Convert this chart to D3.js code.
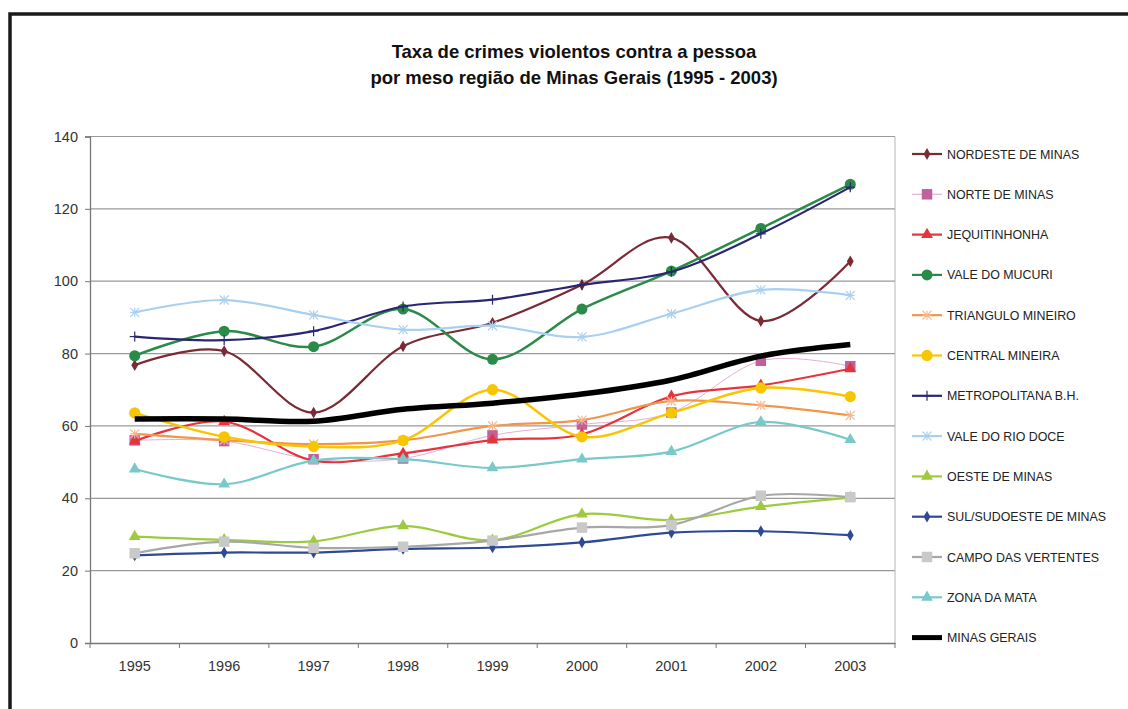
<!DOCTYPE html>
<html><head><meta charset="utf-8">
<script src="https://cdn.jsdelivr.net/npm/d3@7"></script>
<style>
body{margin:0;background:#fff;}
svg{display:block;font-family:"Liberation Sans",Arial,sans-serif;}
</style></head>
<body><svg id="c" width="1128" height="709"></svg>
<script>
const years = ["1995","1996","1997","1998","1999","2000","2001","2002","2003"];
const yTicks = [0,20,40,60,80,100,120,140];
const titleLines = ["Taxa de crimes violentos contra a pessoa","por meso região de Minas Gerais (1995 - 2003)"];

const nordeste   = [76.8, 80.7, 63.7, 82.0, 88.5, 99.0, 112.0, 89.0, 105.5];
const norte      = [56.0, 55.8, 50.8, 51.0, 57.4, 60.4, 63.7, 78.0, 76.5];
const jequi      = [55.8, 61.2, 50.4, 52.4, 56.1, 57.7, 68.2, 71.2, 75.8];
const mucuri     = [79.4, 86.2, 81.9, 92.3, 78.4, 92.3, 102.8, 114.6, 126.8];
const triangulo  = [57.8, 56.1, 55.0, 56.0, 60.0, 61.6, 66.9, 65.7, 62.9];
const central    = [63.6, 57.0, 54.3, 56.0, 70.0, 57.0, 63.6, 70.5, 68.1];
const metro      = [84.7, 83.7, 86.2, 93.0, 94.9, 99.0, 102.6, 113.1, 126.0];
const rioDoce    = [91.4, 94.8, 90.7, 86.6, 87.7, 84.6, 91.0, 97.6, 96.1];
const oeste      = [29.4, 28.5, 28.1, 32.4, 28.4, 35.6, 34.0, 37.7, 40.2];
const sul        = [24.2, 25.0, 25.0, 26.0, 26.4, 27.8, 30.5, 30.9, 29.8];
const campo      = [24.8, 28.0, 26.3, 26.6, 28.3, 31.9, 32.6, 40.7, 40.3];
const zona       = [48.1, 43.9, 50.4, 50.8, 48.4, 50.8, 52.9, 61.1, 56.2];
const minasGerais= [61.9, 61.9, 61.3, 64.6, 66.3, 68.8, 72.7, 79.3, 82.5];

const series = [
  {name:"NORDESTE DE MINAS", values:nordeste, color:"#7A2A35", mcolor:"#7A2A35", w:2.2, sym:"diamond", size:40},
  {name:"NORTE DE MINAS", values:norte, color:"#E3B0D6", mcolor:"#C2609E", w:1, sym:"square", size:110},
  {name:"JEQUITINHONHA", values:jequi, color:"#E5343C", mcolor:"#E5343C", w:2.2, sym:"triangle", size:60},
  {name:"VALE DO MUCURI", values:mucuri, color:"#2A8A48", mcolor:"#2A8A48", w:2.5, sym:"circle", size:95},
  {name:"TRIANGULO MINEIRO", values:triangulo, color:"#F0964A", mcolor:"#F5B890", w:2.2, sym:"asterisk", size:0},
  {name:"CENTRAL MINEIRA", values:central, color:"#F7C600", mcolor:"#F7C600", w:2.5, sym:"circle", size:100},
  {name:"METROPOLITANA B.H.", values:metro, color:"#2B2672", mcolor:"#2B2672", w:2.2, sym:"plus", size:0},
  {name:"VALE DO RIO DOCE", values:rioDoce, color:"#A9D0F0", mcolor:"#A9D0F0", w:2.2, sym:"asterisk", size:0},
  {name:"OESTE DE MINAS", values:oeste, color:"#9DCA3E", mcolor:"#9DCA3E", w:2.2, sym:"triangle", size:60},
  {name:"SUL/SUDOESTE DE MINAS", values:sul, color:"#2E4A94", mcolor:"#2E4A94", w:2.2, sym:"diamond", size:40},
  {name:"CAMPO DAS VERTENTES", values:campo, color:"#A7A7A7", mcolor:"#C9C9C9", w:2.2, sym:"square", size:110},
  {name:"ZONA DA MATA", values:zona, color:"#79C9C9", mcolor:"#79C9C9", w:2.2, sym:"triangle", size:60},
  {name:"MINAS GERAIS", values:minasGerais, color:"#000000", mcolor:null, w:5.5, sym:null, size:0}
];

const svg = d3.select("#c");
// outer frame
svg.append("rect").attr("x",10).attr("y",14).attr("width",1140).attr("height",720)
  .attr("fill","none").attr("stroke","#1a1a1a").attr("stroke-width",3.5);

// title
const tt = svg.append("text").attr("text-anchor","middle").attr("font-weight","bold")
  .attr("font-size","18.5px").attr("fill","#111");
tt.selectAll("tspan").data(titleLines).join("tspan").attr("x",574).attr("y",(d,i)=>58+i*26).text(d=>d);

const pLeft=90, pRight=895, pTop=136.5, pBottom=643;
const x = d3.scaleBand().domain(years).range([pLeft,pRight]);
const y = d3.scaleLinear().domain([0,140]).range([pBottom,pTop]);

// gridlines
svg.append("g").selectAll("line").data(yTicks.filter(d=>d>0)).join("line")
  .attr("x1",pLeft).attr("x2",pRight).attr("y1",d=>y(d)).attr("y2",d=>y(d))
  .attr("stroke","#9a9a9a").attr("stroke-width",1.2);
// plot right border
svg.append("line").attr("x1",pRight).attr("x2",pRight).attr("y1",pTop).attr("y2",pBottom)
  .attr("stroke","#b5b5b5").attr("stroke-width",1);

// axes
const yAxis = svg.append("g").attr("transform",`translate(${pLeft},0)`)
  .call(d3.axisLeft(y).tickValues(yTicks).tickSize(5).tickPadding(7).tickFormat(d3.format("d")));
const xAxis = svg.append("g").attr("transform",`translate(0,${pBottom})`)
  .call(d3.axisBottom(x).tickSize(0).tickPadding(18));
// x tick marks at band boundaries
svg.append("g").selectAll("line").data(d3.range(years.length+1)).join("line")
  .attr("x1",i=>pLeft+i*x.step()).attr("x2",i=>pLeft+i*x.step())
  .attr("y1",pBottom).attr("y2",pBottom+5).attr("stroke","#777");
[yAxis,xAxis].forEach(g=>{
  g.select(".domain").attr("stroke","#777").attr("stroke-width",1.3);
  g.selectAll(".tick line").attr("stroke","#777");
  g.selectAll("text").attr("font-family","'Liberation Sans',Arial,sans-serif").attr("font-size","14.5px").attr("fill","#333");
});

const cx = d=>x(d)+x.bandwidth()/2;
const line = d3.line().curve(d3.curveCatmullRom.alpha(0)).x((d,i)=>cx(years[i])).y(d=>y(d));

function drawMarker(g, s, px, py){
  if(!s.sym) return;
  if(s.sym==="asterisk"){
    const r=4.5;
    [[-r,-r,r,r],[-r,r,r,-r],[-r,0,r,0],[0,-r,0,r]].forEach(a=>{
      g.append("line").attr("x1",px+a[0]).attr("y1",py+a[1]).attr("x2",px+a[2]).attr("y2",py+a[3])
        .attr("stroke",s.mcolor).attr("stroke-width",1.2);
    });
  } else if(s.sym==="plus"){
    const r=5;
    g.append("line").attr("x1",px-r).attr("x2",px+r).attr("y1",py).attr("y2",py).attr("stroke",s.mcolor).attr("stroke-width",1.2);
    g.append("line").attr("x1",px).attr("x2",px).attr("y1",py-r).attr("y2",py+r).attr("stroke",s.mcolor).attr("stroke-width",1.2);
  } else {
    const t = {diamond:d3.symbolDiamond,square:d3.symbolSquare,triangle:d3.symbolTriangle,circle:d3.symbolCircle}[s.sym];
    g.append("path").attr("d",d3.symbol().type(t).size(s.size)()).attr("transform",`translate(${px},${py})`)
      .attr("fill",s.mcolor);
  }
}

series.forEach(s=>{
  const g = svg.append("g");
  g.append("path").datum(s.values).attr("d",line).attr("fill","none")
    .attr("stroke",s.color).attr("stroke-width",s.w).attr("stroke-linejoin","round");
  s.values.forEach((v,i)=>drawMarker(g,s,cx(years[i]),y(v)));
});

// legend
const lg = svg.append("g");
series.forEach((s,i)=>{
  const ly = 154 + i*40.3;
  lg.append("line").attr("x1",912).attr("x2",942).attr("y1",ly).attr("y2",ly)
    .attr("stroke",s.color).attr("stroke-width",s.name==="MINAS GERAIS"?5:(s.w<1.5?1.2:2.2));
  drawMarker(lg,s,927,ly);
  lg.append("text").attr("x",947).attr("y",ly+4.5).attr("font-size","12.4px").attr("fill","#222").text(s.name);
});
</script></body></html>
